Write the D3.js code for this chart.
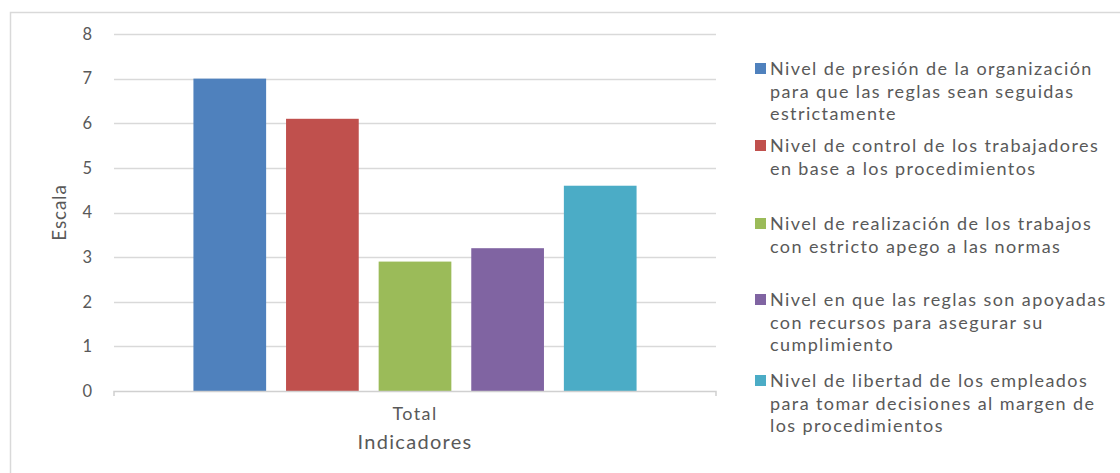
<!DOCTYPE html>
<html>
<head>
<meta charset="utf-8">
<script src="https://cdn.jsdelivr.net/npm/d3@7"></script>
<style>
  html, body { margin: 0; padding: 0; background: #fff; }
  svg { display: block; }
  text { font-family: Lato, "Open Sans", sans-serif; fill: #595959; }
</style>
</head>
<body>
<svg id="chart" width="1120" height="473"></svg>
<script>
// Chart data
const categories = ["Total"];
const seriesNames = [
  "Nivel de presión de la organización para que las reglas sean seguidas estrictamente",
  "Nivel de control de los trabajadores en base a los procedimientos",
  "Nivel de realización de los trabajos con estricto apego a las normas",
  "Nivel en que las reglas son apoyadas con recursos para asegurar su cumplimiento",
  "Nivel de libertad de los empleados para tomar decisiones al margen de los procedimientos"
];
// Legend wrapping, one array of lines per series
const legendLines = [
  ["Nivel de presión de la organización", "para que las reglas sean seguidas", "estrictamente"],
  ["Nivel de control de los trabajadores", "en base a los procedimientos"],
  ["Nivel de realización de los trabajos", "con estricto apego a las normas"],
  ["Nivel en que las reglas son apoyadas", "con recursos para asegurar su", "cumplimiento"],
  ["Nivel de libertad de los empleados", "para tomar decisiones al margen de", "los procedimientos"]
];
const seriesValues = [7.0, 6.1, 2.9, 3.2, 4.6];
const yTicks = [0, 1, 2, 3, 4, 5, 6, 7, 8];
const colors = ["#4f81bd", "#c0504d", "#9bbb59", "#8064a2", "#4bacc6"];

const svg = d3.select("#chart");

// Outer chart frame
svg.append("rect")
  .attr("x", 10.5).attr("y", 12.5)
  .attr("width", 1130).attr("height", 480)
  .attr("fill", "none").attr("stroke", "#d9d9d9").attr("stroke-width", 1.5);

const plot = { left: 114, right: 716, top: 34, bottom: 391 };

const y = d3.scaleLinear().domain([0, 8]).range([plot.bottom, plot.top]);
const x0 = d3.scaleBand().domain(categories).range([plot.left, plot.right]).padding(0.152);
const x1 = d3.scaleBand().domain(d3.range(seriesNames.length))
  .range([0, x0.bandwidth()]).paddingInner(0.215).paddingOuter(0);

// Gridlines
svg.append("g")
  .selectAll("line")
  .data(yTicks.filter(d => d > 0))
  .join("line")
  .attr("x1", plot.left).attr("x2", plot.right)
  .attr("y1", d => Math.round(y(d)) + 0.5).attr("y2", d => Math.round(y(d)) + 0.5)
  .attr("stroke", "#d9d9d9").attr("stroke-width", 1.5);

// Y axis labels
const yAxis = d3.axisLeft(y).tickValues(yTicks).tickSize(0).tickPadding(0);
const gy = svg.append("g").attr("transform", `translate(${plot.left - 22},0)`).call(yAxis);
gy.select(".domain").remove();
gy.selectAll("text")
  .style("font-family", "Lato, 'Open Sans', sans-serif")
  .style("font-size", "16.5px").attr("fill", "#595959");

// Bars
svg.append("g")
  .selectAll("rect")
  .data(seriesValues)
  .join("rect")
  .attr("x", (d, i) => x0("Total") + x1(i))
  .attr("y", d => y(d))
  .attr("width", x1.bandwidth())
  .attr("height", d => y(0) - y(d))
  .attr("fill", (d, i) => colors[i]);

// X axis line with category boundary ticks
const xAxis = d3.axisBottom(x0).tickSize(0).tickPadding(16);
const gx = svg.append("g").attr("transform", `translate(0,${plot.bottom})`).call(xAxis);
gx.select(".domain")
  .attr("d", `M${plot.left},5V0.5H${plot.right}V5`)
  .attr("stroke", "#d0d0d0").attr("stroke-width", 1.5).attr("fill", "none");
gx.selectAll("text")
  .style("font-family", "Lato, 'Open Sans', sans-serif")
  .style("font-size", "18px").style("letter-spacing", "1.4px").attr("fill", "#595959")
  .attr("dy", "0.71em");

// Axis titles
svg.append("text")
  .attr("transform", `translate(66,${(plot.top + plot.bottom) / 2}) rotate(-90)`)
  .attr("text-anchor", "middle")
  .style("font-size", "19px")
  .style("letter-spacing", "0.8px")
  .text("Escala");

svg.append("text")
  .attr("x", x0("Total") + x0.bandwidth() / 2)
  .attr("y", 449)
  .attr("text-anchor", "middle")
  .style("font-size", "20px")
  .style("letter-spacing", "1.3px")
  .text("Indicadores");

// Legend
const legend = svg.append("g").attr("transform", "translate(755,0)");
const entryTop = [75, 152, 230, 306, 387];
const lineH = 22.5;
const items = legend.selectAll("g.item")
  .data(seriesNames)
  .join("g").attr("class", "item")
  .attr("transform", (d, i) => `translate(0,${entryTop[i]})`);
items.append("rect")
  .attr("x", 0).attr("y", -12).attr("width", 11).attr("height", 11)
  .attr("fill", (d, i) => colors[i]);
items.append("text")
  .style("font-size", "18px")
  .style("letter-spacing", "1.4px")
  .selectAll("tspan")
  .data((d, i) => legendLines[i])
  .join("tspan")
  .attr("x", 15)
  .attr("y", (d, j) => j * lineH)
  .text(d => d);
</script>
</body>
</html>
